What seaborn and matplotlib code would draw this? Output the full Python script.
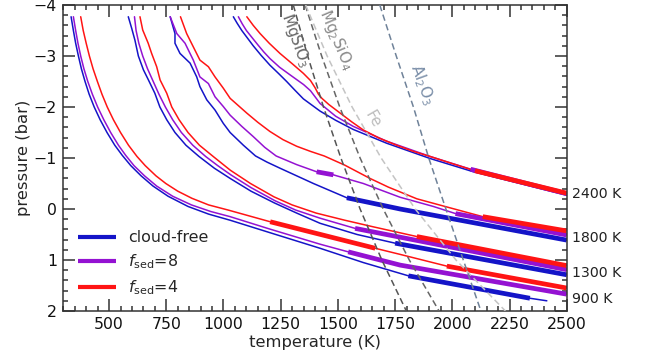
import numpy as np
import matplotlib
matplotlib.use("Agg")
import matplotlib.pyplot as plt
from matplotlib.ticker import MultipleLocator
import seaborn as sns

sns.set_style("ticks")
plt.rcParams["font.family"] = ["DejaVu Sans"]
plt.rcParams["axes.unicode_minus"] = True

# ---------------- model profiles: temperature (K) vs log10 pressure (bar) ----------------
# Teff = 900 K
t900_clear = [334, 344, 354, 366, 379, 395, 413, 435, 461, 491, 525, 558, 595, 640, 692, 758, 845, 935, 1029,
              1200, 1422, 1611, 1808, 2339, 2413]
p900_clear = [-3.77, -3.5, -3.25, -3.0, -2.75, -2.5, -2.25, -2.0, -1.75, -1.5, -1.25, -1.05, -0.85, -0.65, -0.45,
              -0.25, -0.05, 0.10, 0.22, 0.46, 0.77, 1.05, 1.31, 1.75, 1.80]
t900_f8 = [344, 354, 364, 376, 390, 407, 427, 450, 477, 507, 541, 573, 609, 655, 708, 778, 860, 945, 1029,
           1200, 1422, 1545, 1772, 2500]
p900_f8 = [-3.77, -3.5, -3.25, -3.0, -2.75, -2.5, -2.25, -2.0, -1.75, -1.5, -1.25, -1.05, -0.85, -0.65, -0.45,
           -0.25, -0.08, 0.05, 0.15, 0.39, 0.69, 0.84, 1.10, 1.67]
t900_f4 = [376, 387, 400, 414, 430, 449, 469, 492, 519, 550, 585, 622, 658, 705, 748, 800, 862, 935, 1020,
           1100, 1204, 1663, 1772, 1976, 2500]
p900_f4 = [-3.77, -3.5, -3.25, -3.0, -2.75, -2.5, -2.25, -2.0, -1.75, -1.5, -1.25, -1.03, -0.85, -0.65, -0.50,
           -0.35, -0.21, -0.08, 0.02, 0.12, 0.25, 0.77, 0.89, 1.12, 1.55]

# Teff = 1300 K
t1300_clear = [584, 599, 613, 628, 650, 672, 700, 722, 752, 788, 836, 893, 960, 1029, 1120, 1222, 1320, 1422,
               1584, 1750, 2500]
p1300_clear = [-3.77, -3.54, -3.31, -3.0, -2.73, -2.53, -2.27, -2.0, -1.75, -1.5, -1.25, -1.03, -0.80, -0.60,
               -0.35, -0.12, 0.08, 0.28, 0.50, 0.67, 1.29]
t1300_f8 = [611, 618, 630, 647, 668, 693, 718, 746, 778, 816, 866, 922, 975, 1032, 1120, 1226, 1315, 1422,
            1575, 2500]
p1300_f8 = [-3.77, -3.5, -3.25, -3.0, -2.75, -2.5, -2.25, -2.0, -1.75, -1.5, -1.25, -1.03, -0.85, -0.67,
            -0.42, -0.16, 0.02, 0.18, 0.38, 1.19]
t1300_f4 = [635, 647, 671, 686, 708, 723, 752, 774, 806, 845, 895, 955, 1030, 1118, 1220, 1300, 1405, 1530,
            1655, 1845, 2500]
p1300_f4 = [-3.77, -3.51, -3.25, -3.05, -2.79, -2.53, -2.27, -2.0, -1.75, -1.5, -1.25, -1.03, -0.76, -0.50,
            -0.24, -0.08, 0.08, 0.22, 0.35, 0.54, 1.11]

# Teff = 1800 K
t1800_clear = [767, 788, 788, 810, 854, 883, 897, 927, 963, 999, 1029, 1087, 1140, 1190, 1247, 1320, 1393,
               1539, 1772, 2500]
p1800_clear = [-3.77, -3.44, -3.25, -3.05, -2.86, -2.59, -2.40, -2.14, -1.94, -1.68, -1.50, -1.25, -1.04,
               -0.92, -0.80, -0.65, -0.50, -0.22, 0.0, 0.61]
t1800_f8 = [767, 796, 832, 868, 897, 934, 963, 999, 1029, 1080, 1130, 1180, 1230, 1320, 1407, 1480, 1611,
            1772, 1917, 2014, 2500]
p1800_f8 = [-3.77, -3.44, -3.25, -2.92, -2.59, -2.46, -2.20, -2.01, -1.84, -1.62, -1.42, -1.21, -1.04,
            -0.87, -0.73, -0.67, -0.50, -0.23, -0.05, 0.09, 0.51]
t1800_f4 = [812, 839, 868, 897, 934, 963, 999, 1029, 1102, 1150, 1203, 1260, 1320, 1380, 1440, 1530, 1640,
            1720, 1845, 1976, 2133, 2500]
p1800_f4 = [-3.77, -3.44, -3.18, -2.92, -2.79, -2.59, -2.37, -2.17, -1.88, -1.70, -1.52, -1.36, -1.23,
            -1.13, -1.04, -0.86, -0.60, -0.43, -0.20, -0.04, 0.15, 0.43]

# Teff = 2400 K
t2400_clear = [1043, 1060, 1080, 1105, 1130, 1165, 1203, 1240, 1276, 1312, 1349, 1422, 1490, 1567, 1713,
               1903, 2092, 2500]
p2400_clear = [-3.77, -3.64, -3.50, -3.35, -3.20, -3.01, -2.82, -2.66, -2.50, -2.33, -2.16, -1.92, -1.74,
               -1.56, -1.29, -0.99, -0.73, -0.27]
t2400_f8 = [1065, 1082, 1100, 1125, 1150, 1176, 1203, 1245, 1291, 1350, 1380, 1407, 1422, 1490, 1567, 1713,
            1903, 2080, 2500]
p2400_f8 = [-3.77, -3.63, -3.50, -3.36, -3.22, -3.08, -2.95, -2.78, -2.63, -2.44, -2.32, -2.16, -2.07, -1.82,
            -1.62, -1.33, -1.03, -0.78, -0.30]
t2400_f4 = [1102, 1130, 1160, 1200, 1247, 1300, 1349, 1380, 1400, 1415, 1430, 1460, 1510, 1560, 1611, 1680,
            1757, 1830, 1903, 2000, 2099, 2500]
p2400_f4 = [-3.77, -3.60, -3.44, -3.25, -3.05, -2.85, -2.66, -2.52, -2.38, -2.25, -2.17, -2.05, -1.88, -1.71,
            -1.55, -1.39, -1.25, -1.13, -1.03, -0.89, -0.75, -0.31]

# convective zones (log10 P range, bar) drawn as thick segments
conv900_clear = [(1.31, 1.75)]
conv900_f8 = [(0.84, 1.67)]
conv900_f4 = [(0.25, 0.77), (1.12, 1.55)]
conv1300_clear = [(0.67, 1.29)]
conv1300_f8 = [(0.38, 1.19)]
conv1300_f4 = [(0.54, 1.11)]
conv1800_clear = [(-0.22, 0.61)]
conv1800_f8 = [(-0.73, -0.67), (0.09, 0.51)]
conv1800_f4 = [(0.15, 0.43)]
conv2400_clear = []
conv2400_f8 = [(-0.78, -0.30)]
conv2400_f4 = [(-0.75, -0.31)]

teff_labels = ["2400 K", "1800 K", "1300 K", "900 K"]
teff_label_p = [-0.29, 0.57, 1.25, 1.77]

# condensation curves
logp_cond = [-4, -3, -2, -1, 0, 1, 2]
t_mgsio3 = [1305, 1368, 1437, 1513, 1597, 1692, 1799]
t_mg2sio4 = [1357, 1429, 1508, 1597, 1698, 1812, 1942]
t_fe = [1359, 1453, 1562, 1689, 1838, 2016, 2232]
t_al2o3 = [1683, 1755, 1830, 1897, 1972, 2048, 2125]

series_names = ["cloud-free", r"$f_\mathrm{sed}$=8", r"$f_\mathrm{sed}$=4"]
series_colors = ["#1414c8", "#9412d2", "#ff1414"]

profiles = {
    "cloud-free": [(t900_clear, p900_clear, conv900_clear), (t1300_clear, p1300_clear, conv1300_clear),
                   (t1800_clear, p1800_clear, conv1800_clear), (t2400_clear, p2400_clear, conv2400_clear)],
    r"$f_\mathrm{sed}$=8": [(t900_f8, p900_f8, conv900_f8), (t1300_f8, p1300_f8, conv1300_f8),
                            (t1800_f8, p1800_f8, conv1800_f8), (t2400_f8, p2400_f8, conv2400_f8)],
    r"$f_\mathrm{sed}$=4": [(t900_f4, p900_f4, conv900_f4), (t1300_f4, p1300_f4, conv1300_f4),
                            (t1800_f4, p1800_f4, conv1800_f4), (t2400_f4, p2400_f4, conv2400_f4)],
}

fig = plt.figure(figsize=(6.5, 3.6), dpi=100)
ax = fig.add_axes([0.0974, 0.1361, 0.7745, 0.85])

# condensation curves
cond = [(t_mgsio3, "#555555"), (t_mg2sio4, "#666666"), (t_fe, "#c4c4c4"), (t_al2o3, "#6f8299")]
for tc, col in cond:
    sns.lineplot(x=tc, y=logp_cond, sort=False, estimator=None, ax=ax, color=col,
                 lw=1.1, linestyle=(0, (4.2, 2.4)), zorder=3)

thin_lw, thick_lw = 1.1, 3.4
for name, col in zip(series_names, series_colors):
    for t, p, zones in profiles[name]:
        t = np.asarray(t, float)
        p = np.asarray(p, float)
        sns.lineplot(x=t, y=p, sort=False, estimator=None, ax=ax, color=col,
                     lw=thin_lw, zorder=2)
        for p0, p1 in zones:
            m = (p >= p0 - 1e-9) & (p <= p1 + 1e-9)
            sns.lineplot(x=t[m], y=p[m], sort=False, estimator=None, ax=ax, color=col,
                         lw=thick_lw, solid_capstyle="butt", zorder=2.5)

# legend handles
handles = [plt.Line2D([], [], color=c, lw=3.0, solid_capstyle="butt") for c in series_colors]
ax.legend(handles, series_names, loc="lower left", frameon=False, fontsize=11.4,
          handlelength=2.4, handletextpad=0.8, labelspacing=0.45,
          borderaxespad=0.5, borderpad=0.4)

# condensation labels
ax.text(1317, -3.31, r"MgSiO$_3$", color="#666666", fontsize=11, rotation=-70,
        ha="center", va="center", rotation_mode="anchor")
ax.text(1492, -3.31, r"Mg$_2$SiO$_4$", color="#8a8a8a", fontsize=11, rotation=-67,
        ha="center", va="center", rotation_mode="anchor")
ax.text(1654, -1.75, "Fe", color="#bdbdbd", fontsize=11, rotation=-60,
        ha="center", va="center", rotation_mode="anchor")
ax.text(1868, -2.43, r"Al$_2$O$_3$", color="#7a8ea8", fontsize=11, rotation=-70,
        ha="center", va="center", rotation_mode="anchor")

for lab, pv in zip(teff_labels, teff_label_p):
    ax.text(1.01, pv, lab, transform=ax.get_yaxis_transform(), ha="left", va="center",
            fontsize=10.2, color="#222222")

ax.set_xlim(300, 2500)
ax.set_ylim(2, -4)
ax.xaxis.set_major_locator(MultipleLocator(250))
ax.xaxis.set_minor_locator(MultipleLocator(50))
ax.yaxis.set_major_locator(MultipleLocator(1))
ax.yaxis.set_minor_locator(MultipleLocator(0.2))
ax.set_xticks([500, 750, 1000, 1250, 1500, 1750, 2000, 2250, 2500])
ax.tick_params(which="both", direction="in", top=True, right=True, color="#333333", width=1.1)
ax.tick_params(which="major", length=8.4, labelsize=11.3, pad=4.5, labelcolor="#111111")
ax.tick_params(which="minor", length=3.6)
for s in ax.spines.values():
    s.set_color("#333333")
    s.set_linewidth(1.1)
ax.set_xlabel("temperature (K)", fontsize=11.8, labelpad=2)
ax.set_ylabel("pressure (bar)", fontsize=11.8, labelpad=2)

fig.savefig("out.png", dpi=100)
